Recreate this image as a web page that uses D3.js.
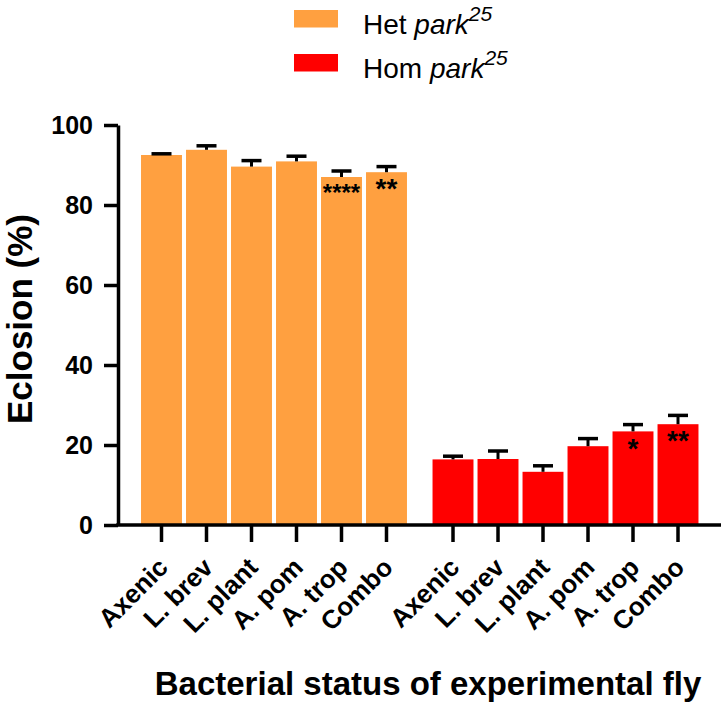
<!DOCTYPE html>
<html>
<head>
<meta charset="utf-8">
<script src="https://cdn.jsdelivr.net/npm/d3@7"></script>
<style>
  body { margin: 0; background: #fff; }
  svg text { font-family: "Liberation Sans", Arial, sans-serif; fill: #000; }
</style>
</head>
<body>
<div id="chart"></div>
<script>
// data
var categories = ["Axenic", "L. brev", "L. plant", "A. pom", "A. trop", "Combo"]
var groups = ["het", "hom"]
var hetMean = [92.5, 93.8, 89.6, 90.9, 87.0, 88.2]
var hetSem = [0.3, 1.0, 1.5, 1.3, 1.5, 1.4]
var homMean = [16.4, 16.5, 13.3, 19.7, 23.4, 25.2]
var homSem = [0.8, 2.0, 1.5, 1.9, 1.7, 2.2]
var hetSig = ["", "", "", "", "****", "**"]
var homSig = ["", "", "", "", "*", "**"]
var yTicks = [0, 20, 40, 60, 80, 100]
var colors = { het: "#FFA040", hom: "#FF0000" }

var width = 724, height = 708

var svg = d3.select("#chart").append("svg")
    .attr("width", width)
    .attr("height", height)

// scales
var y = d3.scaleLinear().domain([0, 100]).range([525, 125])
var xGroup = d3.scaleBand().domain(groups).range([139, 700.5]).paddingInner(0.0738)
var xCat = d3.scaleBand().domain(categories).range([0, xGroup.bandwidth()])
    .paddingInner(0.09).paddingOuter(0.045)

// flatten for drawing
var rows = []
groups.forEach(function (g) {
    var m = g == "het" ? hetMean : homMean
    var s = g == "het" ? hetSem : homSem
    var sig = g == "het" ? hetSig : homSig
    categories.forEach(function (c, i) {
        rows.push({ group: g, cat: c, mean: m[i], sem: s[i], sig: sig[i] })
    })
})
function cx(d) { return xGroup(d.group) + xCat(d.cat) + xCat.bandwidth() / 2 }
function starSize(d) { return d.sig.length > 2 ? 24 : 28 }

//**********************Bars**********************
svg.append("g").selectAll("rect")
    .data(rows)
    .enter()
    .append("rect")
    .attr("x", d => xGroup(d.group) + xCat(d.cat))
    .attr("width", xCat.bandwidth())
    .attr("y", d => y(d.mean))
    .attr("height", d => y(0) - y(d.mean))
    .attr("fill", d => colors[d.group])

// error bars (upper only)
var err = svg.append("g").attr("stroke", "#000")
err.selectAll(".stem")
    .data(rows)
    .enter()
    .append("line")
    .attr("x1", cx).attr("x2", cx)
    .attr("y1", d => y(d.mean))
    .attr("y2", d => y(d.mean + d.sem))
    .attr("stroke-width", 3)
err.selectAll(".cap")
    .data(rows)
    .enter()
    .append("line")
    .attr("x1", d => cx(d) - 10).attr("x2", d => cx(d) + 10)
    .attr("y1", d => y(d.mean + d.sem))
    .attr("y2", d => y(d.mean + d.sem))
    .attr("stroke-width", 3.5)

// significance stars
svg.append("g").selectAll("text")
    .data(rows.filter(d => d.sig != ""))
    .enter()
    .append("text")
    .attr("x", cx)
    .attr("y", d => y(d.mean) + 10 + 0.58 * starSize(d))
    .attr("text-anchor", "middle")
    .style("font-size", d => starSize(d) + "px")
    .style("font-weight", "bold")
    .text(d => d.sig)

//**********************Axes**********************
var yAxis = svg.append("g")
    .attr("transform", "translate(118,0)")
    .call(d3.axisLeft(y).tickValues(yTicks).tickSize(14).tickSizeOuter(0).tickPadding(11))
yAxis.attr("font-family", null)
yAxis.selectAll("path, line").attr("stroke", "#000").attr("stroke-width", 3.5)
yAxis.selectAll("text")
    .style("font-size", "25px")
    .style("font-weight", "bold")

// x axis line
svg.append("line")
    .attr("x1", 116.25).attr("x2", 721)
    .attr("y1", y(0)).attr("y2", y(0))
    .attr("stroke", "#000")
    .attr("stroke-width", 3.5)

groups.forEach(function (g) {
    var ax = svg.append("g")
        .attr("transform", "translate(" + xGroup(g) + "," + y(0) + ")")
        .call(d3.axisBottom(xCat).tickSize(17).tickSizeOuter(0))
    ax.attr("font-family", null)
    ax.select(".domain").remove()
    ax.selectAll("line").attr("stroke", "#000").attr("stroke-width", 3.5)
    ax.selectAll("text")
        .attr("y", null).attr("dy", null)
        .attr("transform", "translate(8,44) rotate(-45)")
        .attr("text-anchor", "end")
        .style("font-size", "26px")
        .style("font-weight", "bold")
})

// axis titles
svg.append("text")
    .attr("transform", "translate(32,319) rotate(-90)")
    .attr("text-anchor", "middle")
    .style("font-size", "35px")
    .style("font-weight", "bold")
    .text("Eclosion (%)")

svg.append("text")
    .attr("x", 428).attr("y", 695)
    .attr("text-anchor", "middle")
    .style("font-size", "33px")
    .style("font-weight", "bold")
    .text("Bacterial status of experimental fly")

//**********************Legend**********************
var legend = svg.append("g").selectAll("g")
    .data(groups)
    .enter()
    .append("g")
    .attr("transform", (d, i) => "translate(294," + (10 + i * 44) + ")")

legend.append("rect")
    .attr("width", 44).attr("height", 17.5)
    .attr("fill", d => colors[d])

var lt = legend.append("text")
    .attr("x", 69).attr("y", 23.5)
    .style("font-size", "28px")
lt.append("tspan").text(d => d == "het" ? "Het " : "Hom ")
lt.append("tspan").style("font-style", "italic").text("park")
lt.append("tspan")
    .attr("dy", -13)
    .style("font-style", "italic")
    .style("font-size", "21px")
    .text("25")
</script>
</body>
</html>
